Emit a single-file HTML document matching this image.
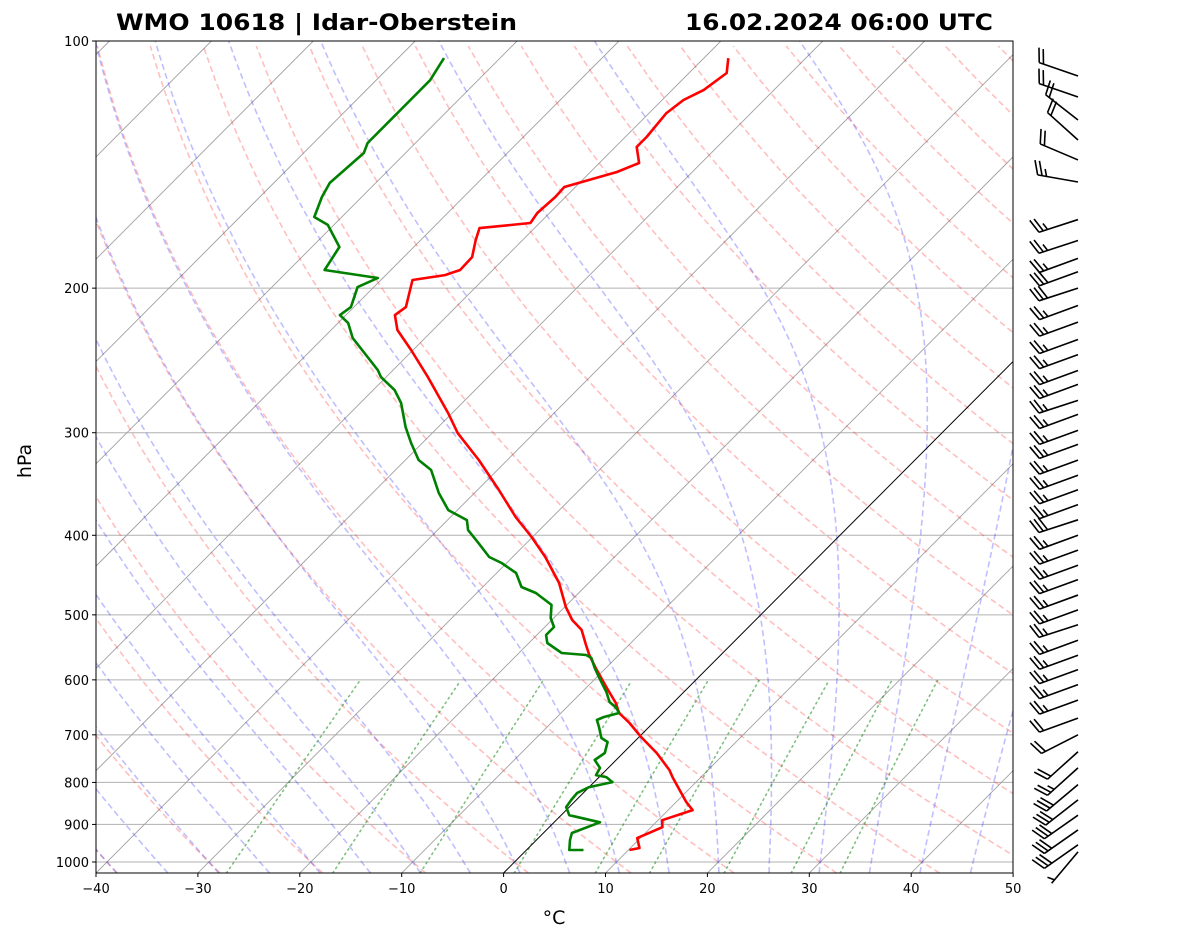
<!DOCTYPE html>
<html><head><meta charset="utf-8"><style>
html,body{margin:0;padding:0;background:#fff;}
svg{display:block;font-family:"DejaVu Sans","Liberation Sans",sans-serif;}
</style></head><body>
<svg id="chart" width="1181" height="941" viewBox="0 0 1181 941" xmlns="http://www.w3.org/2000/svg">
<defs><clipPath id="plotclip"><rect x="96" y="41" width="917" height="832"/></clipPath></defs>
<rect width="1181" height="941" fill="#fff"/>
<text x="116" y="30" font-size="22" font-weight="bold" textLength="401" lengthAdjust="spacingAndGlyphs">WMO 10618 | Idar-Oberstein</text>
<text x="685" y="30" font-size="22" font-weight="bold" textLength="308" lengthAdjust="spacingAndGlyphs">16.02.2024 06:00 UTC</text>
<text x="554" y="924" font-size="19" text-anchor="middle">°C</text>
<text x="31" y="461" font-size="19" text-anchor="middle" transform="rotate(-90 31 461)">hPa</text>
<g id="bg" clip-path="url(#plotclip)"></g>
<g id="profiles" clip-path="url(#plotclip)"></g>
<rect x="96" y="41" width="917" height="832" fill="none" stroke="#000" stroke-width="1"/>
<g id="ticks"></g>
<g id="barbs"></g>
</svg>
<script>
// ---- data ----
const tempP = [104.9,109.4,114.7,118.0,122.4,130.9,134.6,140.8,144.4,150.6,154.9,162.0,166.6,169.0,174.8,183.3,190.1,192.8,195.5,210.9,215.7,224.9,237.9,256.7,283.9,300.3,323.9,352.3,380.1,401.9,425.1,457.3,489.0,507.2,521.6,544.1,559.6,580.4,612.2,640.3,658.5,677.2,704.3,736.6,772.6,788.1,845.3,864.6,889.3,906.9,935.1,961.6,967.0];
const tempT = [-57.6,-56.3,-56.9,-57.9,-58.3,-57.9,-57.9,-56.1,-57.4,-61.1,-61.0,-61.2,-60.9,-65.4,-64.6,-63.3,-63.2,-64.2,-66.9,-64.9,-65.2,-63.5,-60.2,-55.9,-50.4,-47.5,-42.8,-37.9,-33.6,-30.1,-26.8,-22.9,-19.9,-18.0,-16.1,-14.2,-12.9,-11.0,-8.1,-5.6,-4.3,-2.3,0.2,3.3,6.2,7.2,11.0,12.4,10.4,11.1,9.7,10.9,10.1];
const dewP = [104.9,111.6,117.0,125.8,133.1,136.9,148.9,154.9,163.8,167.5,178.2,190.1,194.4,199.4,210.9,215.7,220.6,230.0,251.7,256.7,266.2,276.0,295.3,308.8,323.9,333.1,345.5,355.3,372.7,383.3,394.2,408.9,425.1,432.3,444.6,462.4,470.3,486.3,504.4,517.3,529.0,541.0,556.5,559.6,564.3,580.4,595.3,620.8,638.7,647.7,658.5,665.9,671.5,684.9,706.3,714.2,736.6,751.3,768.3,783.7,788.1,799.3,810.5,824.4,840.7,857.3,877.0,894.6,922.0,940.4,967.0,967.0];
const dewT = [-85.5,-84.7,-84.7,-84.7,-84.7,-84.1,-84.5,-83.9,-82.7,-80.6,-77.3,-76.5,-70.5,-71.6,-70.3,-70.6,-69.0,-67.1,-61.5,-60.5,-57.9,-56.0,-53.2,-51.1,-48.7,-46.5,-44.8,-43.5,-40.9,-38.1,-37.0,-34.7,-32.3,-30.5,-28.1,-26.2,-24.2,-21.5,-20.3,-19.1,-19.1,-18.2,-15.8,-13.2,-12.4,-11.1,-9.8,-7.6,-6.3,-5.2,-4.3,-5.4,-5.8,-4.9,-3.6,-2.6,-1.8,-2.1,-0.8,-0.5,0.7,1.8,0.0,-0.6,-0.5,-0.3,0.8,4.5,2.8,3.3,4.2,5.6];
const windP = [110.3,117.0,124.8,132.0,139.6,148.5,165,175,184,191,200,210,220,231,241,252,262,274,285,298,310,324,338,352,367,383,400,417,435,453,473,493,514,537,560,583,608,635,668,700,734,768,805,840,877,914,953,972];
const windDir = [289,289,308,312,293,280,252,252,250,250,252,250,250,250,250,250,250,252,250,250,250,250,250,250,250,252,250,250,250,250,250,250,252,250,250,250,250,250,250,243,228,228,230,232,235,235,235,220];
const windSpd = [20,20,20,20,20,25,25,25,25,30,30,25,25,25,25,25,25,25,25,25,25,25,25,25,25,30,25,25,25,25,25,25,25,25,25,25,25,25,20,20,20,25,30,30,30,30,30,5];
const xTicks = [-40,-30,-20,-10,0,10,20,30,40,50];
const yTicks = [100,200,300,400,500,600,700,800,900,1000];
const dryT0 = [-40,-30,-20,-10,0,10,20,30,40,50,60,70,80,90,100,110,120,130,140,150,160,170,180,190,200];
const moistT0 = [-40,-35,-30,-25,-20,-15,-10,-5,0,5,10,15,20,25,30,35,40,45,50];
const mixW = [0.0004,0.001,0.002,0.004,0.007,0.01,0.016,0.024,0.032];
const isoT = [-160,-150,-140,-130,-120,-110,-100,-90,-80,-70,-60,-50,-40,-30,-20,-10,10,20,30,40,50];

// ---- axes ----
const NS="http://www.w3.org/2000/svg";
function yP(p){return 41+(Math.log10(p)-2)*821;}
function xT(T,p){return 96+(T+40)*10.19+(873-yP(p))*0.996;}
const PBOT=1031.4;
function mk(tag,attrs,parent){const e=document.createElementNS(NS,tag);for(const k in attrs)e.setAttribute(k,attrs[k]);parent.appendChild(e);return e;}
const bg=document.getElementById('bg'),prof=document.getElementById('profiles'),ticks=document.getElementById('ticks'),barbs=document.getElementById('barbs');
function pathFrom(pts){return pts.map((q,i)=>(i?'L':'M')+q[0].toFixed(1)+' '+q[1].toFixed(1)).join('');}

yTicks.forEach(p=>{const l=mk('line',{x1:96,x2:1013,y1:yP(p),y2:yP(p),stroke:'#b0b0b0','stroke-width':1},bg);

});
isoT.forEach(T=>{const l=mk('line',{x1:xT(T,PBOT),y1:yP(PBOT),x2:xT(T,100),y2:yP(100),stroke:'#a0a0a0','stroke-width':0.9},bg);

});
dryT0.forEach(t0=>{const th=t0+273.15;const pts=[];for(let p=PBOT;p>=99;p-=10){pts.push([xT(th*Math.pow(p/1000,0.2857)-273.15,p),yP(p)]);}
const e=mk('path',{d:pathFrom(pts),fill:'none',stroke:'#ff0000','stroke-opacity':0.25,'stroke-width':1.6,'stroke-dasharray':'6,3.5'},bg);

});
function es(Tc){return 6.112*Math.exp(17.67*Tc/(Tc+243.5));}
function dTdp(T,p){const Tc=T-273.15;const e=es(Tc);const rs=0.622*e/Math.max(p-e,1e-3);
return (1/p)*(287.04*T+2.501e6*rs)/(1005.7+2.501e6*2.501e6*rs*0.622/(287.04*T*T));}
moistT0.forEach(t0=>{let T=t0+273.15,p=1000;const up=[[xT(t0,1000),yP(1000)]];
while(p>100){const dp=-2;const k1=dTdp(T,p),k2=dTdp(T+dp*k1/2,p+dp/2),k3=dTdp(T+dp*k2/2,p+dp/2),k4=dTdp(T+dp*k3,p+dp);T+=dp*(k1+2*k2+2*k3+k4)/6;p+=dp;up.push([xT(T-273.15,p),yP(p)]);}
let T2=t0+273.15;const dp=PBOT-1000;T2+=dp*dTdp(T2,1000);up.unshift([xT(T2-273.15,PBOT),yP(PBOT)]);
const e=mk('path',{d:pathFrom(up),fill:'none',stroke:'#0000ff','stroke-opacity':0.25,'stroke-width':1.6,'stroke-dasharray':'6,3.5'},bg);

});
mixW.forEach(w=>{const pts=[];for(let p=PBOT;p>=600;p-=10){const e=p*w/(0.622+w);const L=Math.log(e/6.112);const Td=243.5*L/(17.67-L);pts.push([xT(Td,p),yP(p)]);}
const e=mk('path',{d:pathFrom(pts),fill:'none',stroke:'#008000','stroke-opacity':0.5,'stroke-width':1.6,'stroke-dasharray':'1.5,4','stroke-linecap':'round'},bg);

});
const z=mk('line',{x1:xT(0,PBOT),y1:yP(PBOT),x2:xT(0,100),y2:yP(100),stroke:'#000','stroke-width':1},bg);


const tp=mk('path',{d:pathFrom(tempP.map((p,i)=>[xT(tempT[i],p),yP(p)])),fill:'none',stroke:'#ff0000','stroke-width':2.6,'stroke-linejoin':'round'},prof);


const dpth=mk('path',{d:pathFrom(dewP.map((p,i)=>[xT(dewT[i],p),yP(p)])),fill:'none',stroke:'#008000','stroke-width':2.6,'stroke-linejoin':'round'},prof);


xTicks.forEach(T=>{const x=96+(T+40)*10.19;mk('line',{x1:x,x2:x,y1:873,y2:877,stroke:'#000'},ticks);
const t=mk('text',{x:x,y:893,'font-size':13,'text-anchor':'middle'},ticks);t.textContent=(T<0?'\u2212'+(-T):T);

});
yTicks.forEach(p=>{const y=yP(p);mk('line',{x1:92,x2:96,y1:y,y2:y,stroke:'#000'},ticks);
const t=mk('text',{x:89,y:y+5,'font-size':13,'text-anchor':'end'},ticks);t.textContent=p;

});
windP.forEach((p,i)=>{const bx=1078,by=yP(p);const d=windDir[i]*Math.PI/180;const ux=Math.sin(d),uy=-Math.cos(d);const L=41;
const tx=bx+ux*L,ty=by+uy*L;const g=mk('g',{stroke:'#000','stroke-width':1.6,fill:'none'},barbs);


mk('line',{x1:bx,y1:by,x2:tx,y2:ty},g);
const a=Math.atan2(uy,ux)+70*Math.PI/180;const bxv=Math.cos(a),byv=Math.sin(a);
let s=windSpd[i],k=0;
while(s>=10){const sx=tx-ux*4.5*k,sy=ty-uy*4.5*k;mk('line',{x1:sx,y1:sy,x2:sx+bxv*15,y2:sy+byv*15},g);s-=10;k++;}
if(s>=5){if(k===0)k=1;const sx=tx-ux*4.5*k,sy=ty-uy*4.5*k;mk('line',{x1:sx,y1:sy,x2:sx+bxv*7.5,y2:sy+byv*7.5},g);}
});
</script>
</body></html>
